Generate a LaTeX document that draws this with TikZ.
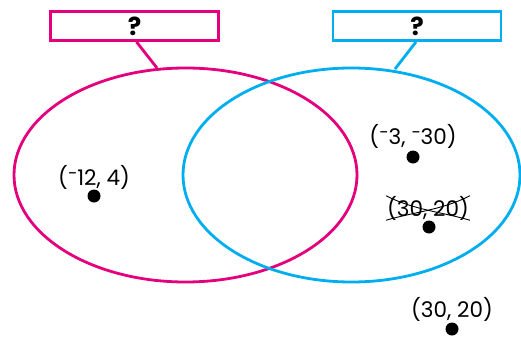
\documentclass[tikz,border=0pt]{standalone}
\usepackage{fontspec}
\setmainfont{Poppins}
\usetikzlibrary{shapes.geometric,calc}
\definecolor{vpink}{HTML}{E4007C}
\definecolor{vblue}{HTML}{00AEEF}
\begin{document}
\begin{tikzpicture}[x=1pt,y=-1pt,
  setline/.style={line width=2.8pt},
  labelbox/.style={draw,line width=2.8pt,minimum width=168pt,minimum height=29pt,inner sep=0pt,font=\bfseries\fontsize{25}{25}\selectfont},
  ptlabel/.style={font=\fontsize{21.5}{22}\selectfont,inner sep=0pt},
  dotmark/.style={circle,fill=black,minimum size=13pt,inner sep=0pt}]
\newcommand{\rminus}{\raisebox{0.5ex}{\fontsize{17}{17}\selectfont −}}
\useasboundingbox (0,0) rectangle (521,337);
% boxes
\node[labelbox,draw=vpink] (pbox) at (134.5,26) {?};
\node[labelbox,draw=vblue] (bbox) at (417,26) {?};
% ellipses
\node[draw=vpink,setline,ellipse,minimum width=343pt,minimum height=214pt,inner sep=0pt] (pell) at (185.5,175) {};
\coordinate (ptop) at (157,68);
\coordinate (btop) at (395,69);
\node[draw=vblue,setline,ellipse,minimum width=337pt,minimum height=214pt,inner sep=0pt] (bell) at (351.5,175) {};
\draw[vpink,setline] ($(pbox.south)+(2,0)$) -- (ptop);
\draw[vblue,setline] ($(bbox.south)+(-1,0)$) -- (btop);
% points
\node[dotmark] (d1) at (94,196) {};
\node[ptlabel] (l1) at (94,177) {(\rminus12, 4)};
\node[dotmark] (d2) at (413,157) {};
\node[ptlabel] (l2) at (413,136) {(\rminus3, \rminus30)};
\node[dotmark] (d3) at (429,227) {};
\node[ptlabel] (l3) at (428,208) {(30, 20)};
\draw[line width=0.9pt] ($(l3.north west)+(-1,0)$) .. controls ($(l3.center)+(-14,2)$) and ($(l3.center)+(14,4)$) .. ($(l3.south east)+(1,0)$);
\draw[line width=0.9pt] ($(l3.south west)+(-1,0)$) .. controls ($(l3.center)+(-14,4)$) and ($(l3.center)+(14,2)$) .. ($(l3.north east)+(1,0)$);
\node[dotmark] (d4) at (452,329) {};
\node[ptlabel] (l4) at (452,309) {(30, 20)};
\end{tikzpicture}
\end{document}
